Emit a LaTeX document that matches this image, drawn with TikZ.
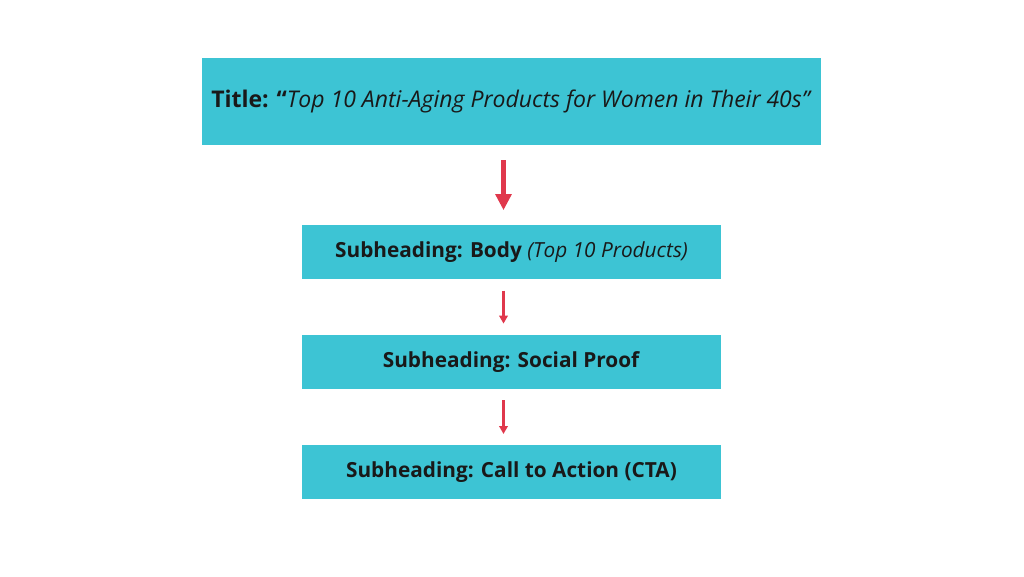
\documentclass[tikz,border=0pt]{standalone}
\usepackage{fontspec}
\setmainfont{Open Sans}
\usetikzlibrary{positioning,arrows.meta}
\definecolor{boxcyan}{HTML}{3DC4D4}
\definecolor{arrowred}{HTML}{E0384C}
\begin{document}
\begin{tikzpicture}[x=1pt, y=1pt, node distance=55pt,
                    main box/.style={fill=boxcyan, draw=none, minimum width=419pt, minimum height=54pt,
                                     inner sep=0pt, font=\fontsize{20.8}{24}\selectfont, text=black!90},
                    flow/.style={draw=arrowred, line width=2.6pt, -{Triangle[length=8pt, width=8.5pt]},
                                 shorten <=11pt, shorten >=11pt}]
    \useasboundingbox (0,0) rectangle (1024,576);

    \node[main box, minimum width=619pt, minimum height=87pt,
          font=\fontsize{23}{27}\selectfont] (title) at (511.5,474.5)
          {\textbf{Title: “}\textit{Top 10 Anti-Aging Products for Women in Their 40s”}};
    \node[main box] (body) [below=80pt of title] {\textbf{Subheading: Body} \textit{(Top 10 Products)}};
    \node[main box] (proof) [below=of body] {\textbf{Subheading: Social Proof}};
    \node[main box] (cta) [below=56pt of proof] {\textbf{Subheading: Call to Action (CTA)}};

    % arrows sit a little left of the box centres
    \draw[flow, line width=5pt, -{Triangle[length=16pt, width=15.5pt]}, shorten <=15pt, shorten >=15pt]
        ([xshift=-8pt]title.south) -- ([xshift=-8pt]body.north);
    \draw[flow] ([xshift=-8pt]body.south) -- ([xshift=-8pt]proof.north);
    \draw[flow] ([xshift=-8pt]proof.south) -- ([xshift=-8pt]cta.north);
\end{tikzpicture}
\end{document}
